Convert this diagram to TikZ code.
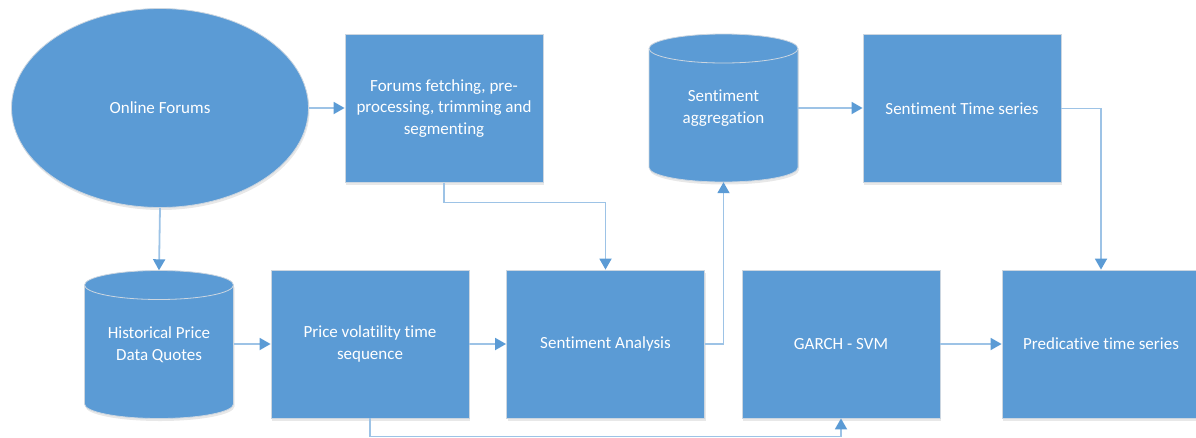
\documentclass[tikz,border=0pt]{standalone}
\usepackage{fontspec}
\setmainfont{Carlito}[Ligatures={NoCommon,NoContextual}]
\usetikzlibrary{arrows.meta,shapes.geometric,shadows,calc}
\definecolor{boxblue}{HTML}{5B9BD5}
\definecolor{boxedge}{HTML}{CCD6E0}
\definecolor{wireblue}{HTML}{9DC3E6}
\definecolor{tipblue}{HTML}{5B9BD5}

% database drum: name, centre x, centre y, label
\newcommand\storenode[4]{%
  \path[fill=boxblue, draw=boxedge, line width=0.8pt, softshade]
    ({#2-74.5},{#3+59.5}) -- ({#2-74.5},{#3-59.5})
    arc[start angle=180, end angle=360, x radius=74.5, y radius=14.5]
    -- ({#2+74.5},{#3+59.5})
    arc[start angle=0, end angle=180, x radius=74.5, y radius=14.5] -- cycle;
  \draw[boxedge, line width=0.8pt] ({#2-74.5},{#3+59.5})
    arc[start angle=180, end angle=360, x radius=74.5, y radius=14.5];
  \node[store] (#1) at (#2,#3) {#4};
}

\begin{document}
\begin{tikzpicture}[x=1pt, y=1pt,
  every node/.style={font=\fontsize{17}{21.5}\selectfont, text=white, align=center},
  softshade/.style={drop shadow={shadow xshift=1pt, shadow yshift=-2.5pt, opacity=0.09, fill=black}},
  stepbox/.style={rectangle, fill=boxblue, draw=boxedge, line width=0.8pt,
    minimum width=198pt, minimum height=148pt, inner sep=0pt, softshade},
  store/.style={rectangle, minimum width=149pt, minimum height=148pt, inner sep=0pt},
  source/.style={ellipse, fill=boxblue, draw=boxedge, line width=0.8pt,
    minimum width=297pt, minimum height=199pt, inner sep=0pt, softshade},
  wire/.style={draw=wireblue, line width=1.8pt,
    -{Triangle[length=11pt, width=12pt, color=tipblue]}},
]
\clip (0,0) rectangle (1196,-437);

% top row
\node[source] (forum) at (160,-108) {Online Forums};
\node[stepbox] (fetch) at (444,-108.5) {Forums fetching, pre-\\processing, trimming and\\segmenting};
\storenode{agg}{723.5}{-108}{Sentiment\\aggregation}
\node[stepbox] (sts) at (962,-108.5) {Sentiment Time series};

% bottom row
\storenode{hist}{159}{-344.5}{Historical Price\\Data Quotes}
\node[stepbox] (pvol) at (370,-344) {Price volatility time\\sequence};
\node[stepbox] (sa) at (605.5,-344) {Sentiment Analysis};
\node[stepbox] (garch) at (841,-344) {GARCH - SVM};
\node[stepbox] (pred) at (1101,-344) {Predicative time series};

% connectors
\draw[wire] (forum.east) -- (forum.east -| fetch.west);
\draw[wire] (forum.south) -- (hist.north);
\draw[wire] (pvol.west -| hist.east) -- (pvol.west);
\draw[wire] (pvol.east) -- (sa.west);
\draw[wire] (fetch.south) -- ++(0,-19.5) -| (sa.north);
\draw[wire] (sa.east) -| (agg.south);
\draw[wire] (agg.east) -- (agg.east -| sts.west);
\draw[wire] (sts.east) -| (pred.north);
\draw[wire] (garch.east) -- (pred.west);
\draw[wire] (pvol.south) -- ++(0,-18) -| (garch.south);
\end{tikzpicture}
\end{document}
